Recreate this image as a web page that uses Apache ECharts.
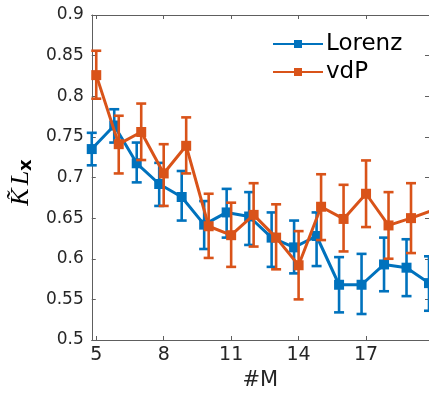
<!DOCTYPE html>
<html>
<head>
<meta charset="utf-8">
<script src="https://cdn.jsdelivr.net/npm/echarts@6/dist/echarts.min.js"></script>
<style>
html,body{margin:0;padding:0;background:#fff;}
#chart{width:429px;height:396px;}
</style>
</head>
<body>
<div id="chart"></div>
<script>
// ---- data ----
const xTicks = [5, 8, 11, 14, 17];
const yTicks = [0.5, 0.55, 0.6, 0.65, 0.7, 0.75, 0.8, 0.85, 0.9];

const lorenzM = [4.8, 5.8, 6.8, 7.8, 8.8, 9.8, 10.8, 11.8, 12.8, 13.8, 14.8, 15.8, 16.8, 17.8, 18.8, 19.8];
const lorenzMean = [0.735, 0.764, 0.7175, 0.692, 0.676, 0.642, 0.657, 0.652, 0.626, 0.614, 0.628, 0.568, 0.568, 0.593, 0.589, 0.570];
const lorenzLow  = [0.715, 0.743, 0.694, 0.665, 0.647, 0.612, 0.626, 0.617, 0.590, 0.582, 0.591, 0.534, 0.532, 0.560, 0.554, 0.536];
const lorenzHigh = [0.755, 0.784, 0.743, 0.718, 0.708, 0.671, 0.686, 0.682, 0.657, 0.647, 0.657, 0.602, 0.606, 0.626, 0.624, 0.603];

const vdpM = [5, 6, 7, 8, 9, 10, 11, 12, 13, 14, 15, 16, 17, 18, 19, 20];
const vdpMean = [0.826, 0.741, 0.756, 0.705, 0.739, 0.640, 0.629, 0.654, 0.626, 0.592, 0.664, 0.649, 0.680, 0.641, 0.650, 0.660];
const vdpLow  = [0.797, 0.705, 0.7215, 0.665, 0.705, 0.601, 0.590, 0.615, 0.587, 0.550, 0.623, 0.609, 0.639, 0.600, 0.607, null];
const vdpHigh = [0.856, 0.776, 0.791, 0.741, 0.774, 0.680, 0.669, 0.693, 0.667, 0.634, 0.704, 0.691, 0.721, 0.682, 0.693, null];

const seriesNames = ['Lorenz', 'vdP'];
const colors = ['#0072BD', '#D95319'];

// ---- build ----
function pts(xs, ys) { return xs.map((x, i) => [x, ys[i]]); }
function errs(xs, lo, hi) {
  const out = [];
  xs.forEach((x, i) => { if (lo[i] != null && hi[i] != null) out.push([x, lo[i], hi[i]]); });
  return out;
}
function errorBarSeries(data, color, z) {
  return {
    type: 'custom',
    z: z,
    silent: true,
    encode: { x: 0, y: [1, 2] },
    data: data,
    renderItem: function (params, api) {
      const x = api.value(0);
      const top = api.coord([x, api.value(2)]);
      const bot = api.coord([x, api.value(1)]);
      const h = 5;
      const st = { stroke: color, lineWidth: 2.6, fill: null };
      return {
        type: 'group',
        children: [
          { type: 'line', shape: { x1: top[0], y1: top[1], x2: bot[0], y2: bot[1] }, style: st },
          { type: 'line', shape: { x1: top[0] - h, y1: top[1], x2: top[0] + h, y2: top[1] }, style: st },
          { type: 'line', shape: { x1: bot[0] - h, y1: bot[1], x2: bot[0] + h, y2: bot[1] }, style: st }
        ]
      };
    }
  };
}
function lineSeries(name, data, color, z) {
  return {
    type: 'line',
    name: name,
    z: z,
    data: data,
    symbol: 'rect',
    symbolSize: 10,
    showSymbol: true,
    clip: true,
    lineStyle: { color: color, width: 3 },
    itemStyle: { color: color },
    emphasis: { disabled: true }
  };
}

const axisCol = '#5e5e5e';
const txtCol = '#262626';
const font = 'DejaVu Sans';

const chart = echarts.init(document.getElementById('chart'), null, { renderer: 'canvas' });
chart.setOption({
  animation: false,
  backgroundColor: '#fff',
  grid: { left: 88, top: 15, width: 343, height: 325, containLabel: false },
  legend: {
    orient: 'vertical',
    left: 272,
    top: 32,
    padding: 0,
    itemWidth: 50,
    itemHeight: 10,
    itemGap: 4,
    selectedMode: false,
    textStyle: { fontFamily: font, fontSize: 23, color: '#000', lineHeight: 24, padding: [0, 0, 0, -2] },
    data: seriesNames
  },
  xAxis: [{
    type: 'value',
    min: 4.8, max: 19.8,
    position: 'bottom',
    name: '#M',
    nameLocation: 'middle',
    nameGap: 29,
    nameTextStyle: { fontFamily: font, fontSize: 21, color: txtCol },
    axisLine: { show: true, onZero: false, lineStyle: { color: axisCol, width: 1 } },
    axisTick: { show: true, inside: true, length: 4, lineStyle: { color: axisCol }, customValues: xTicks },
    axisLabel: { show: true, margin: 6, fontFamily: font, fontSize: 19, color: txtCol, customValues: xTicks },
    splitLine: { show: false }
  }, {
    type: 'value',
    min: 4.8, max: 19.8,
    position: 'top',
    axisLine: { show: true, onZero: false, lineStyle: { color: axisCol, width: 1 } },
    axisTick: { show: true, inside: true, length: 4, lineStyle: { color: axisCol }, customValues: xTicks },
    axisLabel: { show: false },
    splitLine: { show: false }
  }],
  yAxis: [{
    type: 'value',
    min: 0.5, max: 0.9, interval: 0.05,
    position: 'left',
    name: '{k|K\u0303}{l|L}{x|x}',
    nameLocation: 'middle',
    nameRotate: 90,
    nameGap: 52,
    nameTextStyle: {
      color: '#000',
      padding: [0, 10, 0, 0],
      rich: {
        k: { fontFamily: 'Liberation Serif', fontStyle: 'italic', fontSize: 26, color: '#000' },
        l: { fontFamily: 'Liberation Serif', fontStyle: 'italic', fontSize: 26, color: '#000', padding: [0, 0, 0, 3] },
        x: { fontFamily: font, fontWeight: 'bold', fontSize: 18, color: '#000', padding: [10, 0, 0, 0] }
      }
    },
    axisLine: { show: true, onZero: false, lineStyle: { color: axisCol, width: 1 } },
    axisTick: { show: true, inside: true, length: 4, lineStyle: { color: axisCol } },
    axisLabel: { show: true, margin: 8, fontFamily: font, fontSize: 17, color: txtCol,
      formatter: v => String(+v.toFixed(2)) },
    splitLine: { show: false }
  }, {
    type: 'value',
    min: 0.5, max: 0.9, interval: 0.05,
    position: 'right',
    axisLine: { show: true, onZero: false, lineStyle: { color: axisCol, width: 1 } },
    axisTick: { show: true, inside: true, length: 4, lineStyle: { color: axisCol } },
    axisLabel: { show: false },
    splitLine: { show: false }
  }],
  series: [
    errorBarSeries(errs(lorenzM, lorenzLow, lorenzHigh), colors[0], 2),
    lineSeries(seriesNames[0], pts(lorenzM, lorenzMean), colors[0], 3),
    errorBarSeries(errs(vdpM, vdpLow, vdpHigh), colors[1], 4),
    lineSeries(seriesNames[1], pts(vdpM, vdpMean), colors[1], 5)
  ]
});
</script>
</body>
</html>
